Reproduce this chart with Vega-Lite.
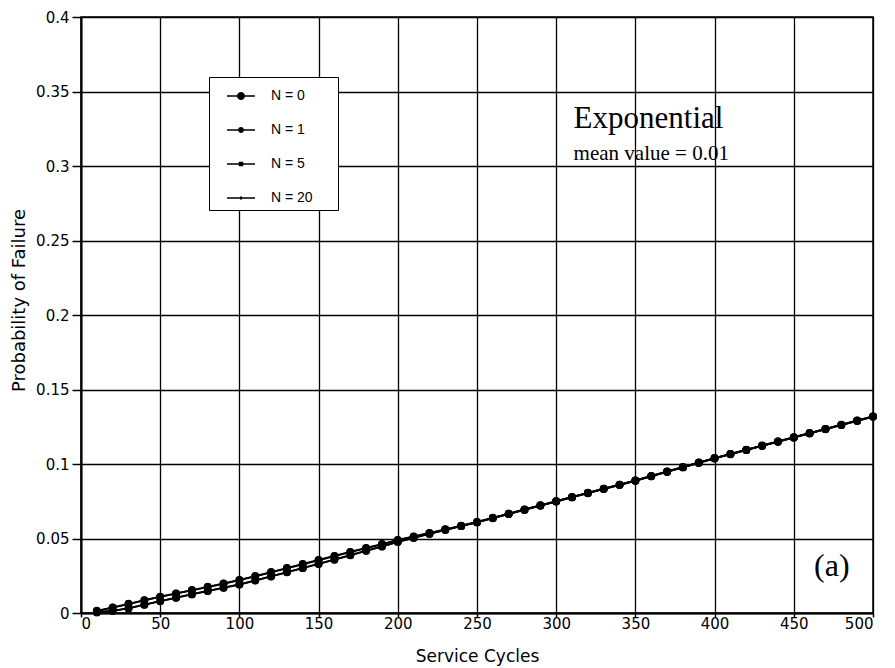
{
  "$schema": "https://vega.github.io/schema/vega-lite/v6.json",
  "width": 792,
  "height": 596,
  "autosize": {"type": "none"},
  "padding": {"left": 81, "top": 17, "right": 22, "bottom": 55},
  "background": "white",
  "config": {
    "view": {"stroke": "black", "strokeWidth": 1.5},
    "axis": {
      "labelFont": "DejaVu Sans",
      "titleFont": "DejaVu Sans",
      "labelFontSize": 15,
      "titleFontSize": 17,
      "titleFontWeight": "normal",
      "labelColor": "black",
      "titleColor": "black",
      "domainColor": "black",
      "domainWidth": 2,
      "tickColor": "black",
      "tickWidth": 1.5,
      "gridColor": "black",
      "gridWidth": 1.3,
      "gridOpacity": 1
    }
  },
  "datasets": {
    "curves": [
      {"cycles": 10, "series": "N = 0", "prob": 0.0015},
      {"cycles": 20, "series": "N = 0", "prob": 0.0038},
      {"cycles": 30, "series": "N = 0", "prob": 0.0062},
      {"cycles": 40, "series": "N = 0", "prob": 0.0086},
      {"cycles": 50, "series": "N = 0", "prob": 0.0110},
      {"cycles": 60, "series": "N = 0", "prob": 0.0132},
      {"cycles": 70, "series": "N = 0", "prob": 0.0154},
      {"cycles": 80, "series": "N = 0", "prob": 0.0176},
      {"cycles": 90, "series": "N = 0", "prob": 0.0198},
      {"cycles": 100, "series": "N = 0", "prob": 0.0222},
      {"cycles": 110, "series": "N = 0", "prob": 0.0248},
      {"cycles": 120, "series": "N = 0", "prob": 0.0275},
      {"cycles": 130, "series": "N = 0", "prob": 0.0302},
      {"cycles": 140, "series": "N = 0", "prob": 0.0329},
      {"cycles": 150, "series": "N = 0", "prob": 0.0356},
      {"cycles": 160, "series": "N = 0", "prob": 0.0383},
      {"cycles": 170, "series": "N = 0", "prob": 0.0410},
      {"cycles": 180, "series": "N = 0", "prob": 0.0437},
      {"cycles": 190, "series": "N = 0", "prob": 0.0463},
      {"cycles": 200, "series": "N = 0", "prob": 0.0490},
      {"cycles": 210, "series": "N = 0", "prob": 0.0514},
      {"cycles": 220, "series": "N = 0", "prob": 0.0538},
      {"cycles": 230, "series": "N = 0", "prob": 0.0562},
      {"cycles": 240, "series": "N = 0", "prob": 0.0586},
      {"cycles": 250, "series": "N = 0", "prob": 0.0611},
      {"cycles": 260, "series": "N = 0", "prob": 0.0639},
      {"cycles": 270, "series": "N = 0", "prob": 0.0667},
      {"cycles": 280, "series": "N = 0", "prob": 0.0695},
      {"cycles": 290, "series": "N = 0", "prob": 0.0723},
      {"cycles": 300, "series": "N = 0", "prob": 0.0751},
      {"cycles": 310, "series": "N = 0", "prob": 0.0779},
      {"cycles": 320, "series": "N = 0", "prob": 0.0807},
      {"cycles": 330, "series": "N = 0", "prob": 0.0835},
      {"cycles": 340, "series": "N = 0", "prob": 0.0862},
      {"cycles": 350, "series": "N = 0", "prob": 0.0890},
      {"cycles": 360, "series": "N = 0", "prob": 0.0920},
      {"cycles": 370, "series": "N = 0", "prob": 0.0950},
      {"cycles": 380, "series": "N = 0", "prob": 0.0980},
      {"cycles": 390, "series": "N = 0", "prob": 0.1010},
      {"cycles": 400, "series": "N = 0", "prob": 0.1040},
      {"cycles": 410, "series": "N = 0", "prob": 0.1068},
      {"cycles": 420, "series": "N = 0", "prob": 0.1096},
      {"cycles": 430, "series": "N = 0", "prob": 0.1124},
      {"cycles": 440, "series": "N = 0", "prob": 0.1152},
      {"cycles": 450, "series": "N = 0", "prob": 0.1180},
      {"cycles": 460, "series": "N = 0", "prob": 0.1208},
      {"cycles": 470, "series": "N = 0", "prob": 0.1236},
      {"cycles": 480, "series": "N = 0", "prob": 0.1264},
      {"cycles": 490, "series": "N = 0", "prob": 0.1292},
      {"cycles": 500, "series": "N = 0", "prob": 0.1320},
      {"cycles": 10, "series": "N = 1", "prob": 0.0013},
      {"cycles": 20, "series": "N = 1", "prob": 0.0036},
      {"cycles": 30, "series": "N = 1", "prob": 0.0060},
      {"cycles": 40, "series": "N = 1", "prob": 0.0084},
      {"cycles": 50, "series": "N = 1", "prob": 0.0108},
      {"cycles": 60, "series": "N = 1", "prob": 0.0130},
      {"cycles": 70, "series": "N = 1", "prob": 0.0152},
      {"cycles": 80, "series": "N = 1", "prob": 0.0174},
      {"cycles": 90, "series": "N = 1", "prob": 0.0196},
      {"cycles": 100, "series": "N = 1", "prob": 0.0220},
      {"cycles": 110, "series": "N = 1", "prob": 0.0246},
      {"cycles": 120, "series": "N = 1", "prob": 0.0273},
      {"cycles": 130, "series": "N = 1", "prob": 0.0300},
      {"cycles": 140, "series": "N = 1", "prob": 0.0327},
      {"cycles": 150, "series": "N = 1", "prob": 0.0354},
      {"cycles": 160, "series": "N = 1", "prob": 0.0381},
      {"cycles": 170, "series": "N = 1", "prob": 0.0408},
      {"cycles": 180, "series": "N = 1", "prob": 0.0435},
      {"cycles": 190, "series": "N = 1", "prob": 0.0461},
      {"cycles": 200, "series": "N = 1", "prob": 0.0488},
      {"cycles": 210, "series": "N = 1", "prob": 0.0512},
      {"cycles": 220, "series": "N = 1", "prob": 0.0536},
      {"cycles": 230, "series": "N = 1", "prob": 0.0560},
      {"cycles": 240, "series": "N = 1", "prob": 0.0584},
      {"cycles": 250, "series": "N = 1", "prob": 0.0610},
      {"cycles": 260, "series": "N = 1", "prob": 0.0638},
      {"cycles": 270, "series": "N = 1", "prob": 0.0666},
      {"cycles": 280, "series": "N = 1", "prob": 0.0694},
      {"cycles": 290, "series": "N = 1", "prob": 0.0722},
      {"cycles": 300, "series": "N = 1", "prob": 0.0750},
      {"cycles": 310, "series": "N = 1", "prob": 0.0778},
      {"cycles": 320, "series": "N = 1", "prob": 0.0806},
      {"cycles": 330, "series": "N = 1", "prob": 0.0834},
      {"cycles": 340, "series": "N = 1", "prob": 0.0861},
      {"cycles": 350, "series": "N = 1", "prob": 0.0889},
      {"cycles": 360, "series": "N = 1", "prob": 0.0919},
      {"cycles": 370, "series": "N = 1", "prob": 0.0949},
      {"cycles": 380, "series": "N = 1", "prob": 0.0979},
      {"cycles": 390, "series": "N = 1", "prob": 0.1009},
      {"cycles": 400, "series": "N = 1", "prob": 0.1039},
      {"cycles": 410, "series": "N = 1", "prob": 0.1067},
      {"cycles": 420, "series": "N = 1", "prob": 0.1095},
      {"cycles": 430, "series": "N = 1", "prob": 0.1123},
      {"cycles": 440, "series": "N = 1", "prob": 0.1151},
      {"cycles": 450, "series": "N = 1", "prob": 0.1179},
      {"cycles": 460, "series": "N = 1", "prob": 0.1207},
      {"cycles": 470, "series": "N = 1", "prob": 0.1235},
      {"cycles": 480, "series": "N = 1", "prob": 0.1263},
      {"cycles": 490, "series": "N = 1", "prob": 0.1291},
      {"cycles": 500, "series": "N = 1", "prob": 0.1319},
      {"cycles": 10, "series": "N = 5", "prob": 0.0005},
      {"cycles": 20, "series": "N = 5", "prob": 0.0015},
      {"cycles": 30, "series": "N = 5", "prob": 0.0032},
      {"cycles": 40, "series": "N = 5", "prob": 0.0056},
      {"cycles": 50, "series": "N = 5", "prob": 0.0080},
      {"cycles": 60, "series": "N = 5", "prob": 0.0103},
      {"cycles": 70, "series": "N = 5", "prob": 0.0126},
      {"cycles": 80, "series": "N = 5", "prob": 0.0148},
      {"cycles": 90, "series": "N = 5", "prob": 0.0170},
      {"cycles": 100, "series": "N = 5", "prob": 0.0192},
      {"cycles": 110, "series": "N = 5", "prob": 0.0219},
      {"cycles": 120, "series": "N = 5", "prob": 0.0246},
      {"cycles": 130, "series": "N = 5", "prob": 0.0274},
      {"cycles": 140, "series": "N = 5", "prob": 0.0302},
      {"cycles": 150, "series": "N = 5", "prob": 0.0330},
      {"cycles": 160, "series": "N = 5", "prob": 0.0359},
      {"cycles": 170, "series": "N = 5", "prob": 0.0388},
      {"cycles": 180, "series": "N = 5", "prob": 0.0418},
      {"cycles": 190, "series": "N = 5", "prob": 0.0447},
      {"cycles": 200, "series": "N = 5", "prob": 0.0478},
      {"cycles": 210, "series": "N = 5", "prob": 0.0505},
      {"cycles": 220, "series": "N = 5", "prob": 0.0532},
      {"cycles": 230, "series": "N = 5", "prob": 0.0558},
      {"cycles": 240, "series": "N = 5", "prob": 0.0584},
      {"cycles": 250, "series": "N = 5", "prob": 0.0609},
      {"cycles": 260, "series": "N = 5", "prob": 0.0637},
      {"cycles": 270, "series": "N = 5", "prob": 0.0665},
      {"cycles": 280, "series": "N = 5", "prob": 0.0693},
      {"cycles": 290, "series": "N = 5", "prob": 0.0721},
      {"cycles": 300, "series": "N = 5", "prob": 0.0749},
      {"cycles": 310, "series": "N = 5", "prob": 0.0777},
      {"cycles": 320, "series": "N = 5", "prob": 0.0805},
      {"cycles": 330, "series": "N = 5", "prob": 0.0833},
      {"cycles": 340, "series": "N = 5", "prob": 0.0860},
      {"cycles": 350, "series": "N = 5", "prob": 0.0888},
      {"cycles": 360, "series": "N = 5", "prob": 0.0918},
      {"cycles": 370, "series": "N = 5", "prob": 0.0948},
      {"cycles": 380, "series": "N = 5", "prob": 0.0978},
      {"cycles": 390, "series": "N = 5", "prob": 0.1008},
      {"cycles": 400, "series": "N = 5", "prob": 0.1038},
      {"cycles": 410, "series": "N = 5", "prob": 0.1066},
      {"cycles": 420, "series": "N = 5", "prob": 0.1094},
      {"cycles": 430, "series": "N = 5", "prob": 0.1122},
      {"cycles": 440, "series": "N = 5", "prob": 0.1150},
      {"cycles": 450, "series": "N = 5", "prob": 0.1178},
      {"cycles": 460, "series": "N = 5", "prob": 0.1206},
      {"cycles": 470, "series": "N = 5", "prob": 0.1234},
      {"cycles": 480, "series": "N = 5", "prob": 0.1262},
      {"cycles": 490, "series": "N = 5", "prob": 0.1290},
      {"cycles": 500, "series": "N = 5", "prob": 0.1318},
      {"cycles": 10, "series": "N = 20", "prob": 0.0004},
      {"cycles": 20, "series": "N = 20", "prob": 0.0014},
      {"cycles": 30, "series": "N = 20", "prob": 0.0031},
      {"cycles": 40, "series": "N = 20", "prob": 0.0055},
      {"cycles": 50, "series": "N = 20", "prob": 0.0079},
      {"cycles": 60, "series": "N = 20", "prob": 0.0102},
      {"cycles": 70, "series": "N = 20", "prob": 0.0125},
      {"cycles": 80, "series": "N = 20", "prob": 0.0147},
      {"cycles": 90, "series": "N = 20", "prob": 0.0169},
      {"cycles": 100, "series": "N = 20", "prob": 0.0191},
      {"cycles": 110, "series": "N = 20", "prob": 0.0218},
      {"cycles": 120, "series": "N = 20", "prob": 0.0245},
      {"cycles": 130, "series": "N = 20", "prob": 0.0273},
      {"cycles": 140, "series": "N = 20", "prob": 0.0301},
      {"cycles": 150, "series": "N = 20", "prob": 0.0329},
      {"cycles": 160, "series": "N = 20", "prob": 0.0358},
      {"cycles": 170, "series": "N = 20", "prob": 0.0387},
      {"cycles": 180, "series": "N = 20", "prob": 0.0417},
      {"cycles": 190, "series": "N = 20", "prob": 0.0446},
      {"cycles": 200, "series": "N = 20", "prob": 0.0477},
      {"cycles": 210, "series": "N = 20", "prob": 0.0504},
      {"cycles": 220, "series": "N = 20", "prob": 0.0531},
      {"cycles": 230, "series": "N = 20", "prob": 0.0557},
      {"cycles": 240, "series": "N = 20", "prob": 0.0583},
      {"cycles": 250, "series": "N = 20", "prob": 0.0608},
      {"cycles": 260, "series": "N = 20", "prob": 0.0636},
      {"cycles": 270, "series": "N = 20", "prob": 0.0664},
      {"cycles": 280, "series": "N = 20", "prob": 0.0692},
      {"cycles": 290, "series": "N = 20", "prob": 0.0720},
      {"cycles": 300, "series": "N = 20", "prob": 0.0748},
      {"cycles": 310, "series": "N = 20", "prob": 0.0776},
      {"cycles": 320, "series": "N = 20", "prob": 0.0804},
      {"cycles": 330, "series": "N = 20", "prob": 0.0832},
      {"cycles": 340, "series": "N = 20", "prob": 0.0859},
      {"cycles": 350, "series": "N = 20", "prob": 0.0887},
      {"cycles": 360, "series": "N = 20", "prob": 0.0917},
      {"cycles": 370, "series": "N = 20", "prob": 0.0947},
      {"cycles": 380, "series": "N = 20", "prob": 0.0977},
      {"cycles": 390, "series": "N = 20", "prob": 0.1007},
      {"cycles": 400, "series": "N = 20", "prob": 0.1037},
      {"cycles": 410, "series": "N = 20", "prob": 0.1065},
      {"cycles": 420, "series": "N = 20", "prob": 0.1093},
      {"cycles": 430, "series": "N = 20", "prob": 0.1121},
      {"cycles": 440, "series": "N = 20", "prob": 0.1149},
      {"cycles": 450, "series": "N = 20", "prob": 0.1177},
      {"cycles": 460, "series": "N = 20", "prob": 0.1205},
      {"cycles": 470, "series": "N = 20", "prob": 0.1233},
      {"cycles": 480, "series": "N = 20", "prob": 0.1261},
      {"cycles": 490, "series": "N = 20", "prob": 0.1289},
      {"cycles": 500, "series": "N = 20", "prob": 0.1317}
    ]
  },
  "layer": [
    {
      "data": {"name": "curves"},
      "mark": {"type": "line", "color": "black", "strokeWidth": 1.8},
      "encoding": {
        "x": {
          "field": "cycles", "type": "quantitative",
          "scale": {"domain": [0, 500], "nice": false, "zero": false},
          "axis": {"values": [0, 50, 100, 150, 200, 250, 300, 350, 400, 450, 500], "title": "Service Cycles", "titlePadding": 17, "labelPadding": -1, "tickSize": 4}
        },
        "y": {
          "field": "prob", "type": "quantitative",
          "scale": {"domain": [0, 0.4], "nice": false},
          "axis": {"values": [0, 0.05, 0.1, 0.15, 0.2, 0.25, 0.3, 0.35, 0.4], "format": "~g", "title": "Probability of Failure", "titleFontSize": 18, "titlePadding": 7, "labelPadding": 3, "tickSize": 9, "titleY": 283}
        },
        "detail": {"field": "series", "type": "nominal"}
      }
    },
    {
      "data": {"name": "curves"},
      "mark": {"type": "point", "shape": "circle", "filled": true, "color": "black", "opacity": 1, "size": 62},
      "encoding": {
        "x": {"field": "cycles", "type": "quantitative"},
        "y": {"field": "prob", "type": "quantitative"},
        "detail": {"field": "series", "type": "nominal"}
      }
    },
    {
      "data": {"name": "curves"},
      "mark": {"type": "point", "filled": true, "color": "black", "opacity": 0},
      "encoding": {
        "x": {"field": "cycles", "type": "quantitative"},
        "y": {"field": "prob", "type": "quantitative"},
        "shape": {
          "field": "series", "type": "nominal",
          "scale": {
            "domain": ["N = 0", "N = 1", "N = 5", "N = 20"],
            "range": [
              "M-1,-0.05H1V0.05H-1ZM-0.29,0A0.29,0.29 0 1,1 0.29,0A0.29,0.29 0 1,1 -0.29,0Z",
              "M-1,-0.05H1V0.05H-1ZM-0.21,0A0.21,0.21 0 1,1 0.21,0A0.21,0.21 0 1,1 -0.21,0Z",
              "M-1,-0.05H1V0.05H-1ZM-0.16,-0.16H0.16V0.16H-0.16Z",
              "M-1,-0.05H1V0.05H-1ZM0,-0.14L0.14,0L0,0.14L-0.14,0Z"
            ]
          },
          "legend": {
            "orient": "none",
            "legendX": 128,
            "legendY": 60,
            "title": "\u00a0",
            "titleOrient": "right",
            "titlePadding": 20,
            "titleFontSize": 14,
            "padding": 5,
            "symbolOffset": 13,
            "symbolSize": 784,
            "symbolFillColor": "black",
            "symbolStrokeColor": "black",
            "symbolStrokeWidth": 0,
            "symbolOpacity": 1,
            "labelFont": "Liberation Sans",
            "labelFontSize": 14,
            "labelColor": "black",
            "labelOffset": 16,
            "rowPadding": 13,
            "strokeColor": "black",
            "fillColor": "white",
            "encode": {
              "symbols": {"update": {"fill": {"value": "black"}, "opacity": {"value": 1}}},
              "legend": {"update": {"strokeWidth": {"value": 2}}}
            }
          }
        }
      }
    },
    {
      "data": {"values": [{"cycles": 311, "prob": 0.3255, "note": "Exponential"}]},
      "mark": {"type": "text", "align": "left", "baseline": "alphabetic", "font": "Liberation Serif", "fontSize": 31, "color": "black"},
      "encoding": {
        "x": {"field": "cycles", "type": "quantitative"},
        "y": {"field": "prob", "type": "quantitative"},
        "text": {"field": "note"}
      }
    },
    {
      "data": {"values": [{"cycles": 311, "prob": 0.304, "note": "mean value = 0.01"}]},
      "mark": {"type": "text", "align": "left", "baseline": "alphabetic", "font": "Liberation Serif", "fontSize": 21, "color": "black"},
      "encoding": {
        "x": {"field": "cycles", "type": "quantitative"},
        "y": {"field": "prob", "type": "quantitative"},
        "text": {"field": "note"}
      }
    },
    {
      "data": {"values": [{"cycles": 474, "prob": 0.0245, "note": "(a)"}]},
      "mark": {"type": "text", "align": "center", "baseline": "alphabetic", "font": "Liberation Serif", "fontSize": 32, "color": "black"},
      "encoding": {
        "x": {"field": "cycles", "type": "quantitative"},
        "y": {"field": "prob", "type": "quantitative"},
        "text": {"field": "note"}
      }
    }
  ]
}
